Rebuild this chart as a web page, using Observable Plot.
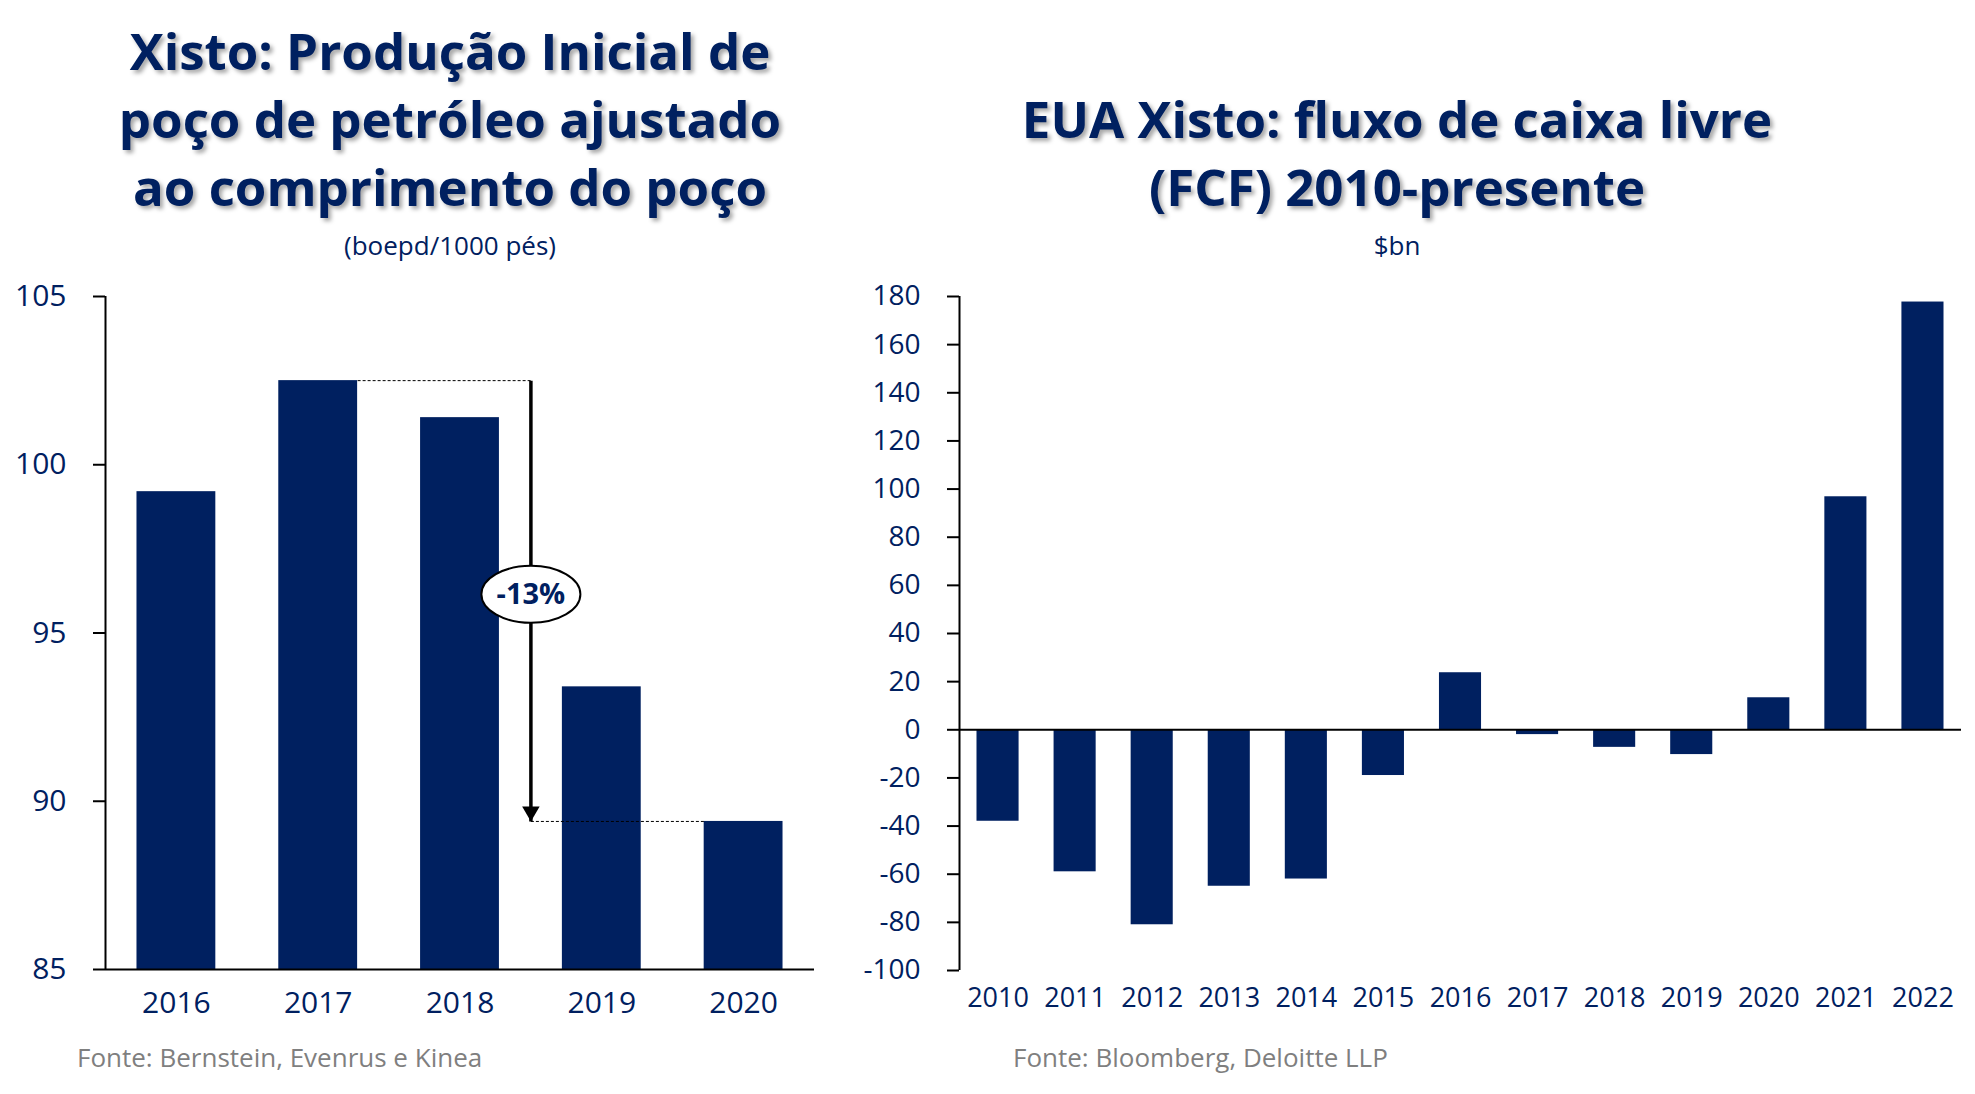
<!DOCTYPE html>
<html>
<head>
<meta charset="utf-8">
<script src="https://cdn.jsdelivr.net/npm/d3@7"></script>
<script src="https://cdn.jsdelivr.net/npm/@observablehq/plot@0.6"></script>
<style>
  html, body { margin: 0; padding: 0; background: #fff; }
  body { width: 1975px; height: 1094px; position: relative; overflow: hidden; font-family: "Open Sans", sans-serif; }
  .title { position: absolute; text-align: center; color: #002060; font-weight: 700; font-size: 51px; line-height: 68px;
           text-shadow: 3px 3px 4px rgba(0,0,0,0.35); white-space: nowrap; }
  .sub { position: absolute; text-align: center; color: #002060; font-size: 26px; line-height: 30px; white-space: nowrap; }
  .foot { position: absolute; color: #7f7f7f; font-size: 26px; line-height: 30px; white-space: nowrap; }
  .chart { position: absolute; }
  .chart [aria-label^="y-axis"] path, .chart [aria-label^="y-axis"] line { stroke: #000; stroke-width: 2px; }
  #right [aria-label^="y-axis"] text { font-size: 28px; }
</style>
</head>
<body>
<div class="title" style="left:0px; width:900px; top:16px;">Xisto: Produção Inicial de<br>poço de petróleo ajustado<br>ao comprimento do poço</div>
<div class="sub" style="left:0px; width:900px; top:230px;">(boepd/1000 pés)</div>
<div class="title" style="left:897px; width:1000px; top:84px;">EUA Xisto: fluxo de caixa livre<br>(FCF) 2010-presente</div>
<div class="sub" style="left:897px; width:1000px; top:230px;">$bn</div>
<div id="left" class="chart" style="left:0px; top:260px;"></div>
<div id="right" class="chart" style="left:840px; top:260px;"></div>
<div class="foot" style="left:77px; top:1041.6px;">Fonte: Bernstein, Evenrus e Kinea</div>
<div class="foot" style="left:1013px; top:1041.6px;">Fonte: Bloomberg, Deloitte LLP</div>
<script>
// ---- Data: Initial production per well (boepd/1000 ft)
const ipYears = [2016, 2017, 2018, 2019, 2020];
const ipValues = [99.2, 102.5, 101.4, 93.4, 89.4];
const ipTicks = [85, 90, 95, 100, 105];

// ---- Data: US shale free cash flow ($bn)
const fcfYears = [2010, 2011, 2012, 2013, 2014, 2015, 2016, 2017, 2018, 2019, 2020, 2021, 2022];
const fcfValues = [-38, -59, -81, -65, -62, -19, 23.7, -2, -7.3, -10.3, 13.3, 96.8, 177.7];
const fcfTicks = [-100, -80, -60, -40, -20, 0, 20, 40, 60, 80, 100, 120, 140, 160, 180];

// ---- Annotation: decline from peak (2017) to 2020
const annotFromYear = [2017];
const annotToYear = [2020];
const annotArrowYear = [2018.5];

const NAVY = "#002060";
const HALF = 0.278;   // half bar width, in years
const HALF_R = 0.273;

const ipData = ipYears.map((year, i) => ({year, value: ipValues[i]}));
const fcfData = fcfYears.map((year, i) => ({year, value: fcfValues[i]}));

const peak = ipData.find(d => d.year === annotFromYear[0]);
const trough = ipData.find(d => d.year === annotToYear[0]);
const arrowX = annotArrowYear[0];
const pct = d3.format(".0%")(trough.value / peak.value - 1).replace("\u2212", "-");
const annot = [{x: arrowX, from: peak.value, to: trough.value, label: pct,
                mid: (peak.value + trough.value) / 2 + 0.2}];

const ellipseSymbol = {
  draw(ctx) {
    const rx = 49.5, ry = 28.5, k = 0.5523;
    ctx.moveTo(rx, 0);
    ctx.bezierCurveTo(rx, k * ry, k * rx, ry, 0, ry);
    ctx.bezierCurveTo(-k * rx, ry, -rx, k * ry, -rx, 0);
    ctx.bezierCurveTo(-rx, -k * ry, -k * rx, -ry, 0, -ry);
    ctx.bezierCurveTo(k * rx, -ry, rx, -k * ry, rx, 0);
    ctx.closePath();
  }
};

const left = Plot.plot({
  width: 840, height: 790,
  marginLeft: 105, marginRight: 26, marginTop: 36, marginBottom: 81,
  style: {background: "transparent", overflow: "visible", color: NAVY, fontFamily: "'Open Sans', sans-serif", fontSize: "30px"},
  x: {domain: [ipYears[0] - 0.5, ipYears[ipYears.length - 1] + 0.5], ticks: ipYears, tickFormat: d => String(d), tickSize: 0, tickPadding: 22, label: null},
  y: {domain: [ipTicks[0], ipTicks[ipTicks.length - 1]], ticks: ipTicks, tickFormat: d => String(d), tickSize: 12, tickPadding: 27, label: null},
  marks: [
    Plot.rectY(ipData, {x1: d => d.year - HALF, x2: d => d.year + HALF, y1: ipTicks[0], y2: "value", fill: NAVY}),
    Plot.ruleX([ipYears[0] - 0.5], {stroke: "#000", strokeWidth: 2}),
    Plot.ruleY([ipTicks[0]], {stroke: "#000", strokeWidth: 2}),
    // dashed guide lines
    Plot.link(annot, {x1: () => peak.year + HALF, x2: "x", y1: "from", y2: "from", stroke: "#000", strokeWidth: 1, strokeDasharray: "3,2"}),
    Plot.link(annot, {x1: "x", x2: () => trough.year - HALF, y1: "to", y2: "to", stroke: "#000", strokeWidth: 1, strokeDasharray: "3,2"}),
    // arrow shaft and head
    Plot.link(annot, {x1: "x", x2: "x", y1: "from", y2: "to", stroke: "#000", strokeWidth: 3.5}),
    Plot.dot(annot, {x: "x", y: "to", symbol: "triangle", r: 6.5, rotate: 180, dy: -10, fill: "#000", stroke: "none"}),
    // label bubble
    Plot.dot(annot, {x: "x", y: "mid", symbol: ellipseSymbol, r: 10, fill: "#fff", stroke: "#000", strokeWidth: 2}),
    Plot.text(annot, {x: "x", y: "mid", text: "label", fill: NAVY, fontWeight: 700, fontSize: 29, fontFamily: "'Open Sans', sans-serif"})
  ]
});
document.getElementById("left").appendChild(left);

const right = Plot.plot({
  width: 1135, height: 790,
  marginLeft: 119, marginRight: 14, marginTop: 36, marginBottom: 80,
  style: {background: "transparent", overflow: "visible", color: NAVY, fontFamily: "'Open Sans', sans-serif", fontSize: "27px"},
  x: {domain: [fcfYears[0] - 0.5, fcfYears[fcfYears.length - 1] + 0.5], ticks: fcfYears, tickFormat: d => String(d), tickSize: 0, tickPadding: 17.5, label: null},
  y: {domain: [fcfTicks[0], fcfTicks[fcfTicks.length - 1]], ticks: fcfTicks, tickFormat: d => String(d), tickSize: 12, tickPadding: 27, label: null},
  marks: [
    Plot.rectY(fcfData, {x1: d => d.year - HALF_R, x2: d => d.year + HALF_R, y1: 0, y2: "value", fill: NAVY}),
    Plot.ruleX([fcfYears[0] - 0.5], {stroke: "#000", strokeWidth: 2}),
    Plot.ruleY([0], {stroke: "#000", strokeWidth: 2})
  ]
});
document.getElementById("right").appendChild(right);
</script>
</body>
</html>
